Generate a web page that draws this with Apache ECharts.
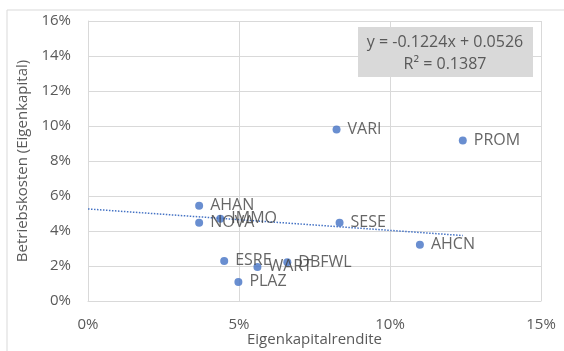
<!DOCTYPE html>
<html>
<head>
<meta charset="utf-8">
<script src="https://cdn.jsdelivr.net/npm/echarts@6/dist/echarts.min.js"></script>
<style>
html,body{margin:0;padding:0;background:#fff;}
#c{width:564px;height:351px;}
</style>
</head>
<body>
<div id="c"></div>
<script>
// Data
const names = ["VARI","PROM","AHAN","IMMO","NOVA","SESE","AHCN","ESRE","WART","DBFWL","PLAZ"];
const xValues = [0.0823,0.1241,0.0368,0.0438,0.0368,0.0833,0.1099,0.0451,0.0561,0.0660,0.0498];
const yValues = [0.0980,0.0917,0.0545,0.0470,0.0447,0.0447,0.0321,0.0229,0.0195,0.0222,0.0109];
const xTicks = [0,0.05,0.10,0.15];
const yTicks = [0,0.02,0.04,0.06,0.08,0.10,0.12,0.14,0.16];
const slope = -0.1224;
const intercept = 0.0526;
const eqText = "y = -0.1224x + 0.0526";
const r2Text = "R² = 0.1387";
const xTitle = "Eigenkapitalrendite";
const yTitle = "Betriebskosten (Eigenkapital)";

const FONT = "Open Sans";
const points = names.map((n,i)=>({name:n, value:[xValues[i], yValues[i]]}));
const xMaxData = Math.max(...xValues);
const trend = [[0, intercept],[xMaxData, intercept + slope*xMaxData]];

const chart = echarts.init(document.getElementById('c'), null, {renderer:'canvas'});
chart.setOption({
  animation:false,
  backgroundColor:'#fff',
  grid:{left:88, right:23, top:21, bottom:50, containLabel:false, outerBoundsMode:'none'},
  xAxis:{
    type:'value', min:xTicks[0], max:xTicks[xTicks.length-1], interval:0.05,
    name:xTitle, nameLocation:'middle', nameGap:31, nameMoveOverlap:false,
    nameTextStyle:{color:'#595959', fontSize:15, fontFamily:FONT},
    axisLine:{show:true, lineStyle:{color:'#d9d9d9'}},
    axisTick:{show:false},
    axisLabel:{color:'#595959', fontSize:15, fontFamily:FONT, margin:16,
      formatter:v=>Math.round(v*100)+'%'},
    splitLine:{show:true, lineStyle:{color:'#d9d9d9'}}
  },
  yAxis:{
    type:'value', min:yTicks[0], max:yTicks[yTicks.length-1], interval:0.02,
    name:yTitle, nameLocation:'middle', nameGap:58, nameRotate:90, nameMoveOverlap:false,
    nameTextStyle:{color:'#595959', fontSize:15, fontFamily:FONT},
    axisLine:{show:true, lineStyle:{color:'#d9d9d9'}},
    axisTick:{show:false},
    axisLabel:{color:'#595959', fontSize:15, fontFamily:FONT, margin:17,
      formatter:v=>Math.round(v*100)+'%'},
    splitLine:{show:true, lineStyle:{color:'#d9d9d9'}}
  },
  series:[
    {
      type:'line', data:trend, symbol:'none', silent:true,
      lineStyle:{color:'#4472C4', width:1.5, type:[1.5,1.5]}, z:1
    },
    {
      type:'scatter', data:points, symbolSize:8,
      itemStyle:{color:'#4472C4'},
      label:{show:true, position:'right', distance:7, formatter:p=>p.name,
        color:'#404040', fontSize:16, fontFamily:FONT},
      labelLayout:{hideOverlap:false},
      z:3
    }
  ],
  graphic:[
    {type:'rect', shape:{x:7, y:10, width:600, height:400},
      style:{fill:'none', stroke:'#d9d9d9', lineWidth:1}, silent:true, z:-1},
    {type:'rect', shape:{x:358, y:27, width:175, height:50},
      style:{fill:'#d9d9d9'}, z:10},
    {type:'text', x:445, y:42, style:{text:eqText, fill:'#595959', fontSize:16, fontFamily:FONT,
      align:'center', verticalAlign:'middle'}, z:11},
    {type:'text', x:445, y:64, style:{text:r2Text, fill:'#595959', fontSize:16, fontFamily:FONT,
      align:'center', verticalAlign:'middle'}, z:11}
  ]
});
</script>
</body>
</html>
